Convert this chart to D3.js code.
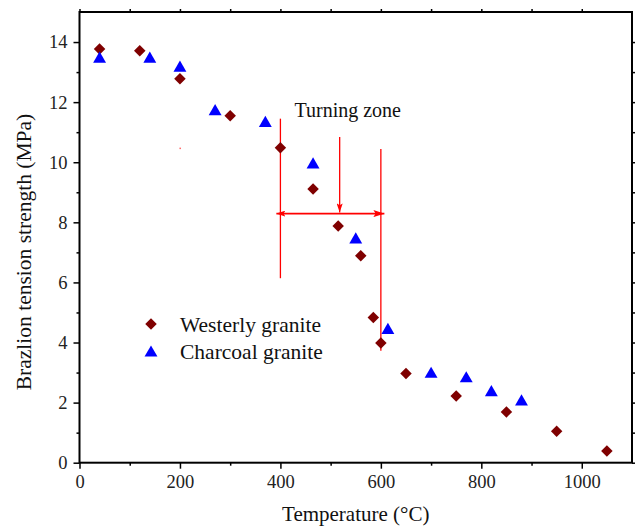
<!DOCTYPE html>
<html>
<head>
<meta charset="utf-8">
<script src="https://cdn.jsdelivr.net/npm/d3@7"></script>
<style>
  body { margin: 0; background: #fff; }
  svg { display: block; font-family: "Liberation Serif", "Times New Roman", serif; }
</style>
</head>
<body>
<svg id="chart" width="636" height="528"></svg>
<script>
// Westerly granite (diamonds)
const westTemp = [40, 120, 200, 300, 400, 465, 515, 560, 585, 600, 650, 750, 850, 950, 1050];
const westStrength = [13.77, 13.71, 12.78, 11.55, 10.48, 9.11, 7.88, 6.89, 4.83, 3.98, 2.97, 2.22, 1.69, 1.05, 0.39];

// Charcoal granite (triangles)
const charTemp = [40, 140, 200, 270, 370, 465, 550, 614, 700, 770, 820, 880];
const charStrength = [13.5, 13.5, 13.2, 11.75, 11.36, 9.98, 7.48, 4.47, 3.01, 2.86, 2.40, 2.09];

const xTicks = [0, 200, 400, 600, 800, 1000];
const yTicks = [0, 2, 4, 6, 8, 10, 12, 14];

// turning zone annotation (data coords)
const zoneLines = [
  { x: 400, y0: 11.45, y1: 6.14 },
  { x: 600, y0: 10.44, y1: 3.73 }
];
const zoneArrowDown = { x: 518, y0: 10.84, y1: 8.33 };
const zoneArrowSide = { y: 8.29, x0: 392, x1: 607 };

const svg = d3.select("#chart");
const margin = { top: 12, left: 79.5 };
const plotWidth = 552.5;
const plotHeight = 450.7;

const x = d3.scaleLinear().domain([0, 1100]).range([0, plotWidth]);
const y = d3.scaleLinear().domain([0, 15]).range([plotHeight, 0]);

const defs = svg.append("defs");
function arrowHead(id, w, h) {
  defs.append("marker")
    .attr("id", id)
    .attr("viewBox", "0 0 10 10")
    .attr("preserveAspectRatio", "none")
    .attr("refX", 10).attr("refY", 5)
    .attr("markerWidth", w).attr("markerHeight", h)
    .attr("markerUnits", "userSpaceOnUse")
    .attr("orient", "auto-start-reverse")
    .append("path").attr("d", "M0,0 L10,5 L0,10 L2,5 z").attr("fill", "red");
}
arrowHead("head", 11, 7);
arrowHead("headSmall", 9, 6);

const g = svg.append("g")
  .attr("transform", `translate(${margin.left}, ${margin.top})`);

// minor ticks
const xMinor = d3.range(100, 1100, 200);
const yMinor = d3.range(1, 15, 2);

function styleAxis(sel) {
  sel.selectAll(".domain").remove();
  sel.selectAll("line").attr("stroke", "#000").attr("stroke-width", 1.5);
  sel.selectAll("text").attr("fill", "#222").style("font-size", "18.5px")
    .style("font-family", "'Liberation Serif', serif");
}

// bottom
g.append("g").attr("transform", `translate(0, ${plotHeight})`)
  .call(d3.axisBottom(x).tickValues(xTicks).tickSize(6).tickPadding(6).tickFormat(d3.format("d")))
  .call(styleAxis);
g.append("g").attr("transform", `translate(0, ${plotHeight})`)
  .call(d3.axisBottom(x).tickValues(xMinor).tickSize(3).tickFormat(""))
  .call(styleAxis);
// left
g.append("g")
  .call(d3.axisLeft(y).tickValues(yTicks).tickSize(6).tickPadding(6).tickFormat(d3.format("d")))
  .call(styleAxis);
g.append("g")
  .call(d3.axisLeft(y).tickValues(yMinor).tickSize(3).tickFormat(""))
  .call(styleAxis);
// top & right mirrors
g.append("g")
  .call(d3.axisTop(x).tickValues(xTicks.concat(xMinor)).tickSize(3).tickFormat(""))
  .call(styleAxis);
g.append("g").attr("transform", `translate(${plotWidth}, 0)`)
  .call(d3.axisRight(y).tickValues(yTicks.concat(yMinor)).tickSize(3).tickFormat(""))
  .call(styleAxis);

// frame
g.append("rect")
  .attr("width", plotWidth).attr("height", plotHeight)
  .attr("fill", "none").attr("stroke", "#000").attr("stroke-width", 2);

// annotation
g.selectAll(".zone-line")
  .data(zoneLines)
  .enter().append("line")
  .attr("x1", d => x(d.x)).attr("x2", d => x(d.x))
  .attr("y1", d => y(d.y0)).attr("y2", d => y(d.y1))
  .attr("stroke", "red").attr("stroke-width", 1.3);

g.append("line")
  .attr("x1", x(zoneArrowDown.x)).attr("x2", x(zoneArrowDown.x))
  .attr("y1", y(zoneArrowDown.y0)).attr("y2", y(zoneArrowDown.y1))
  .attr("stroke", "red").attr("stroke-width", 1.3)
  .attr("marker-end", "url(#headSmall)");

g.append("line")
  .attr("x1", x(zoneArrowSide.x0)).attr("x2", x(zoneArrowSide.x1))
  .attr("y1", y(zoneArrowSide.y)).attr("y2", y(zoneArrowSide.y))
  .attr("stroke", "red").attr("stroke-width", 1.6)
  .attr("marker-start", "url(#headSmall)")
  .attr("marker-end", "url(#head)");

g.append("text")
  .attr("x", x(428)).attr("y", y(11.5))
  .style("font-size", "20px").attr("fill", "#111")
  .text("Turning zone");

// stray dot in the original
g.append("rect")
  .attr("x", x(200) - 0.5).attr("y", y(10.47) - 0.5)
  .attr("width", 1.5).attr("height", 1.5).attr("fill", "#f66");

// points
const diamond = d3.symbol().type(d3.symbolSquare).size(66);
const triangle = d3.symbol().type(d3.symbolTriangle).size(72);
const triOffset = Math.sqrt(72 / (3 * Math.sqrt(3))) / 2;

const westData = westTemp.map((t, i) => ({ t, s: westStrength[i] }));
const charData = charTemp.map((t, i) => ({ t, s: charStrength[i] }));

g.selectAll(".west")
  .data(westData)
  .enter().append("path")
  .attr("class", "west")
  .attr("d", diamond)
  .attr("transform", d => `translate(${x(d.t)}, ${y(d.s)}) rotate(45)`)
  .attr("fill", "#7f0000");

g.selectAll(".char")
  .data(charData)
  .enter().append("path")
  .attr("class", "char")
  .attr("d", triangle)
  .attr("transform", d => `translate(${x(d.t)}, ${y(d.s) + triOffset})`)
  .attr("fill", "#0000ff");

// legend
const legend = svg.append("g");
legend.append("path").attr("d", diamond)
  .attr("transform", "translate(151, 324) rotate(45)").attr("fill", "#7f0000");
legend.append("path").attr("d", triangle)
  .attr("transform", `translate(151, ${351 + triOffset})`).attr("fill", "#0000ff");
legend.append("text").attr("x", 180).attr("y", 331.5)
  .style("font-size", "21.5px").attr("fill", "#111").text("Westerly granite");
legend.append("text").attr("x", 180).attr("y", 358.5)
  .style("font-size", "21.5px").attr("fill", "#111").text("Charcoal granite");

// axis titles
svg.append("text")
  .attr("x", margin.left + plotWidth / 2).attr("y", 521)
  .attr("text-anchor", "middle")
  .style("font-size", "21px").attr("fill", "#111")
  .text("Temperature (°C)");

svg.append("text")
  .attr("transform", "rotate(-90)")
  .attr("x", -252).attr("y", 31)
  .attr("text-anchor", "middle")
  .style("font-size", "21.5px").attr("fill", "#111")
  .text("Brazlion tension strength (MPa)");
</script>
</body>
</html>
